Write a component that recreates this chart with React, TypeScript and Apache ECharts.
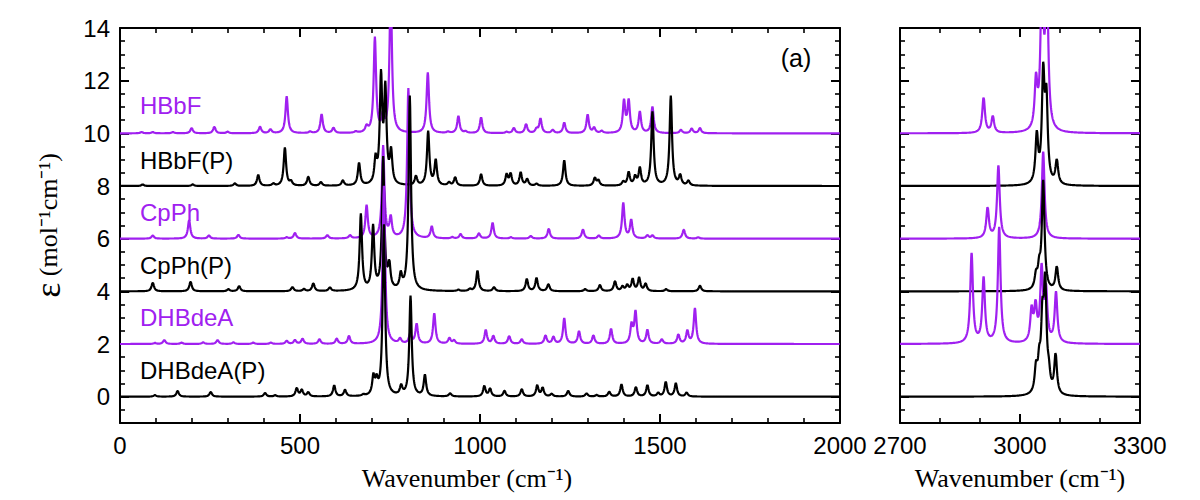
import React, { useEffect, useRef } from 'react';
import * as echarts from 'echarts';

// ---- data: peak lists [wavenumber (cm^-1), peak height] ----
const seriesNames = ['HBbF', 'HBbF(P)', 'CpPh', 'CpPh(P)', 'DHBdeA', 'DHBdeA(P)'];
const seriesOffsets = [10, 8, 6, 4, 2, 0];

const hbbfLow: [number, number][] = [
  [60, 0.05], [91, 0.05], [147, 0.05], [199, 0.2], [262, 0.25], [299, 0.06], [389, 0.25], [418, 0.15],
  [463, 1.4], [528, 0.06], [560, 0.72], [593, 0.2], [655, 0.05], [685, 0.22], [708, 3.6], [730, 0.55],
  [752, 5.5], [855, 2.3], [911, 0.05], [940, 0.65], [960, 0.06], [1003, 0.6], [1074, 0.05], [1094, 0.2],
  [1128, 0.35], [1157, 0.15], [1168, 0.55], [1202, 0.12], [1234, 0.4], [1299, 0.7], [1317, 0.2],
  [1338, 0.08], [1400, 1.2], [1413, 1.2], [1444, 0.8], [1479, 1.0], [1558, 0.13], [1588, 0.18], [1611, 0.2],
];
const hbbfHigh: [number, number][] = [[2909, 1.35], [2932, 0.62], [3040, 1.8], [3055, 6], [3067, 6]];

const hbbfPLow: [number, number][] = [
  [63, 0.06], [202, 0.06], [319, 0.1], [384, 0.42], [426, 0.08], [458, 1.45], [475, 0.15], [523, 0.35],
  [558, 0.14], [619, 0.2], [664, 0.85], [710, 0.9], [725, 4.0], [737, 3.5], [753, 1.2], [822, 0.35],
  [856, 2.05], [877, 0.95], [914, 0.12], [931, 0.32], [1003, 0.44], [1074, 0.42], [1085, 0.45], [1113, 0.5],
  [1131, 0.25], [1157, 0.08], [1234, 0.97], [1319, 0.3], [1329, 0.2], [1398, 0.15], [1413, 0.5], [1431, 0.33],
  [1444, 0.65], [1479, 2.8], [1530, 3.4], [1556, 0.38], [1579, 0.18],
];
const hbbfPHigh: [number, number][] = [[3042, 1.8], [3058, 4.0], [3066, 3.0], [3092, 0.9]];

const cpphLow: [number, number][] = [
  [91, 0.12], [192, 0.7], [247, 0.12], [329, 0.15], [463, 0.05], [486, 0.22], [576, 0.13], [639, 0.12],
  [685, 1.25], [731, 3.5], [752, 0.75], [801, 5.7], [866, 0.45], [923, 0.05], [946, 0.17], [997, 0.2],
  [1035, 0.6], [1086, 0.05], [1141, 0.1], [1191, 0.38], [1286, 0.35], [1330, 0.12], [1398, 1.35],
  [1420, 0.7], [1465, 0.12], [1479, 0.12], [1566, 0.35], [1606, 0.05],
];
const cpphHigh: [number, number][] = [[2919, 1.15], [2946, 2.75], [3058, 3.3]];

const cpphPLow: [number, number][] = [
  [91, 0.33], [196, 0.37], [301, 0.08], [331, 0.2], [479, 0.16], [511, 0.08], [537, 0.3], [583, 0.14],
  [669, 2.9], [703, 2.4], [731, 5.0], [748, 0.9], [780, 0.55], [805, 7.4], [940, 0.05], [972, 0.08],
  [993, 0.78], [1039, 0.15], [1130, 0.46], [1157, 0.5], [1190, 0.27], [1292, 0.08], [1333, 0.24],
  [1375, 0.38], [1396, 0.17], [1409, 0.22], [1424, 0.45], [1442, 0.5], [1460, 0.28], [1517, 0.08], [1611, 0.22],
];
const cpphPHigh: [number, number][] = [[3040, 0.5], [3048, 0.7], [3058, 4.1], [3092, 0.9]];

const dhbLow: [number, number][] = [
  [97, 0.04], [123, 0.15], [171, 0.05], [231, 0.06], [271, 0.15], [315, 0.06], [370, 0.05], [419, 0.05],
  [463, 0.12], [486, 0.15], [507, 0.2], [554, 0.18], [602, 0.2], [636, 0.3], [733, 6.0], [778, 0.18],
  [806, 0.35], [824, 0.75], [873, 1.15], [915, 0.22], [928, 0.13], [1016, 0.53], [1037, 0.3], [1081, 0.3],
  [1116, 0.18], [1182, 0.32], [1204, 0.26], [1234, 0.97], [1275, 0.48], [1315, 0.32], [1364, 0.57],
  [1421, 0.7], [1432, 1.2], [1465, 0.52], [1505, 0.17], [1551, 0.35], [1576, 0.48], [1597, 1.35],
];
const dhbHigh: [number, number][] = [
  [2879, 3.4], [2909, 2.45], [2948, 4.4], [3029, 1.2], [3039, 1.3], [3054, 2.7], [3065, 1.9], [3090, 1.9],
];

const dhbPLow: [number, number][] = [
  [97, 0.06], [160, 0.22], [252, 0.18], [403, 0.14], [431, 0.05], [491, 0.32], [505, 0.25], [523, 0.16],
  [595, 0.42], [625, 0.25], [676, 0.05], [704, 0.7], [713, 0.5], [733, 6.5], [781, 0.35], [807, 3.8],
  [847, 0.8], [917, 0.12], [1012, 0.4], [1028, 0.3], [1068, 0.22], [1116, 0.28], [1159, 0.42], [1174, 0.33],
  [1199, 0.1], [1245, 0.22], [1296, 0.12], [1324, 0.06], [1359, 0.18], [1393, 0.46], [1433, 0.36],
  [1465, 0.43], [1495, 0.13], [1516, 0.55], [1544, 0.5], [1574, 0.15],
];
const dhbPHigh: [number, number][] = [
  [3040, 0.9], [3048, 1.0], [3056, 2.5], [3063, 3.9], [3072, 0.6], [3089, 1.5],
];

const lowPeaks = [hbbfLow, hbbfPLow, cpphLow, cpphPLow, dhbLow, dhbPLow];
const highPeaks = [hbbfHigh, hbbfPHigh, cpphHigh, cpphPHigh, dhbHigh, dhbPHigh];

const xTicksLow = [0, 2000, 500];
const xTicksHigh = [2700, 3300, 300];
const yRange = [-1, 14];

// ---- styling ----
const PURPLE = '#a020f0';
const seriesColors = [PURPLE, '#000000', PURPLE, '#000000', PURPLE, '#000000'];
const labelY = [105, 160, 212, 265, 317, 370];
const SANS = '"Liberation Sans", Arial, Helvetica, sans-serif';
const SERIF = '"Liberation Serif", "Times New Roman", serif';
const HWHM = 4;

function spectrum(peaks: [number, number][], offset: number, from: number, to: number, step: number) {
  const g2 = HWHM * HWHM;
  const out: [number, number][] = [];
  const n = Math.round((to - from) / step);
  for (let i = 0; i <= n; i++) {
    const x = from + i * step;
    let y = offset;
    for (const [p, h] of peaks) {
      const d = x - p;
      y += (h * g2) / (d * d + g2);
    }
    out.push([x, y]);
  }
  return out;
}

const axisLine = { show: true, onZero: false, lineStyle: { color: '#000', width: 2 } };
const axisTick = { show: true, inside: true, length: 9, lineStyle: { color: '#000', width: 2 } };
const minorTick = (n: number) => ({ show: true, splitNumber: n, length: 5, lineStyle: { color: '#000', width: 1.6 } });
const tickLabel = (show: boolean) => ({
  show,
  color: '#000',
  fontSize: 24,
  fontFamily: SANS,
  margin: 10,
  formatter: (v: number) => (v < -0.5 ? '' : String(v)),
});

function makeXAxis(grid: number, pos: 'bottom' | 'top', ticks: number[], minorN: number, labels: boolean, name: string, namePad: number[]) {
  return {
    type: 'value',
    gridIndex: grid,
    position: pos,
    min: ticks[0],
    max: ticks[1],
    interval: ticks[2],
    axisLine,
    axisTick,
    minorTick: minorTick(minorN),
    splitLine: { show: false },
    axisLabel: tickLabel(labels),
    name: labels ? name : '',
    nameLocation: 'middle',
    nameGap: 42,
    nameTextStyle: { fontFamily: SERIF, fontSize: 26, color: '#000', padding: namePad },
  };
}

function makeYAxis(grid: number, pos: 'left' | 'right', labels: boolean, name: string) {
  return {
    type: 'value',
    gridIndex: grid,
    position: pos,
    min: yRange[0],
    max: yRange[1],
    splitNumber: 7,
    axisLine,
    axisTick,
    minorTick: minorTick(4),
    splitLine: { show: false },
    axisLabel: tickLabel(labels),
    name,
    nameLocation: 'middle',
    nameGap: 54,
    nameRotate: 90,
    nameTextStyle: {
      fontFamily: SERIF,
      fontSize: 26,
      color: '#000',
      rich: { eps: { fontFamily: SERIF, fontSize: 36, color: '#000' }, t: { fontFamily: SERIF, fontSize: 26, color: '#000' } },
    },
  };
}

export default function App() {
  const ref = useRef<HTMLDivElement>(null);
  useEffect(() => {
    if (!ref.current) return;
    const chart = echarts.init(ref.current, undefined, { renderer: 'svg' });
    const series: any[] = [];
    seriesNames.forEach((nm, i) => {
      const common = {
        type: 'line',
        name: nm,
        showSymbol: false,
        symbol: 'none',
        silent: true,
        clip: true,
        lineStyle: { color: seriesColors[i], width: 2.2 },
        itemStyle: { color: seriesColors[i] },
        z: 2 + i,
      };
      series.push({ ...common, xAxisIndex: 0, yAxisIndex: 0, data: spectrum(lowPeaks[i], seriesOffsets[i], 0, 2000, 1) });
      series.push({ ...common, xAxisIndex: 2, yAxisIndex: 2, data: spectrum(highPeaks[i], seriesOffsets[i], 2700, 3300, 0.5) });
    });
    const graphics: any[] = seriesNames.map((nm, i) => ({
      type: 'text',
      x: 140,
      y: labelY[i],
      style: { text: nm, fill: seriesColors[i], font: `24px ${SANS}`, textVerticalAlign: 'middle' },
    }));
    graphics.push({
      type: 'text',
      x: 796,
      y: 58,
      style: { text: '(a)', fill: '#000', font: `25px ${SANS}`, textAlign: 'center', textVerticalAlign: 'middle' },
    });
    chart.setOption({
      animation: false,
      backgroundColor: '#fff',
      grid: [
        { left: 120, top: 28, width: 720, height: 395 },
        { left: 900, top: 28, width: 240, height: 395 },
      ],
      xAxis: [
        makeXAxis(0, 'bottom', xTicksLow, 5, true, 'Wavenumber (cm\u207B\u00B9)', [0, 26, 0, 0]),
        makeXAxis(0, 'top', xTicksLow, 5, false, '', [0, 0, 0, 0]),
        makeXAxis(1, 'bottom', xTicksHigh, 3, true, 'Wavenumber (cm\u207B\u00B9)', [0, 0, 0, 0]),
        makeXAxis(1, 'top', xTicksHigh, 3, false, '', [0, 0, 0, 0]),
      ],
      yAxis: [
        makeYAxis(0, 'left', true, '{eps|\u03B5} {t|(mol\u207B\u00B9cm\u207B\u00B9)}'),
        makeYAxis(0, 'right', false, ''),
        makeYAxis(1, 'left', false, ''),
        makeYAxis(1, 'right', false, ''),
      ],
      series,
      graphic: graphics,
    });
    return () => chart.dispose();
  }, []);
  return <div ref={ref} style={{ position: 'absolute', left: 0, top: 0, width: 1200, height: 500 }} />;
}
